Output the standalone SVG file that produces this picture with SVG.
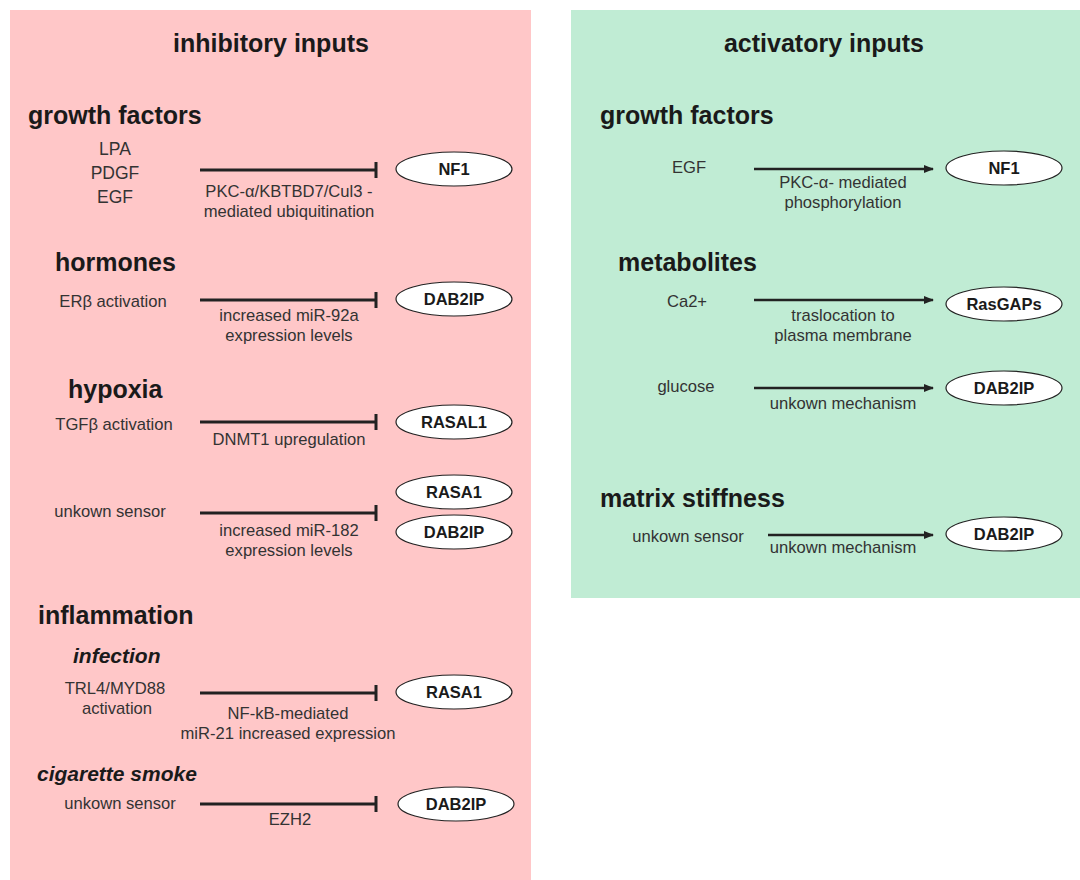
<svg xmlns="http://www.w3.org/2000/svg" width="1080" height="880" viewBox="0 0 1080 880">
<style>
text{font-family:"Liberation Sans",Arial,sans-serif;}
.title{font-size:25px;font-weight:bold;fill:#1a1a1a;text-anchor:middle;}
.head{font-size:25px;font-weight:bold;fill:#1a1a1a;}
.sub{font-size:21px;font-weight:bold;font-style:italic;fill:#1a1a1a;}
.in{font-size:17.5px;fill:#333;text-anchor:middle;}
.lab{font-size:16.6px;fill:#333;text-anchor:middle;}
.node ellipse{fill:#fff;stroke:#222;stroke-width:1.2;}
.node text{font-size:16.5px;font-weight:bold;fill:#1a1a1a;text-anchor:middle;}
.inh{stroke:#222;stroke-width:3;fill:none;}
.act{stroke:#222;stroke-width:2.5;fill:none;marker-end:url(#arr);}
</style>
<defs>
<marker id="arr" viewBox="0 0 10 10" refX="9" refY="5" markerWidth="4" markerHeight="4" orient="auto" markerUnits="strokeWidth">
<path d="M0,1 L10,5 L0,9 z" fill="#222"/>
</marker>
</defs>
<rect x="10" y="10" width="521" height="870" fill="#FFC7C8"/>
<rect x="571" y="10" width="509" height="588" fill="#C0ECD4"/>
<g id="labels">
<text class="title" x="271" y="52">inhibitory inputs</text>
<text class="title" x="824" y="52">activatory inputs</text>
<text class="head" x="28" y="124">growth factors</text>
<text class="head" x="55" y="271">hormones</text>
<text class="head" x="68" y="398">hypoxia</text>
<text class="head" x="38" y="624">inflammation</text>
<text class="sub" x="73" y="663">infection</text>
<text class="sub" x="37" y="781">cigarette smoke</text>
<text class="head" x="600" y="124">growth factors</text>
<text class="head" x="618" y="271">metabolites</text>
<text class="head" x="600" y="507">matrix stiffness</text>
<text class="in" x="115" y="155">LPA</text>
<text class="in" x="115" y="179">PDGF</text>
<text class="in" x="115" y="203">EGF</text>
<text class="lab" x="113" y="307">ERβ activation</text>
<text class="lab" x="114" y="430">TGFβ activation</text>
<text class="lab" x="110" y="517">unkown sensor</text>
<text class="lab" x="115" y="694">TRL4/MYD88</text>
<text class="lab" x="117" y="714">activation</text>
<text class="lab" x="120" y="809">unkown sensor</text>
<text class="lab" x="689" y="173">EGF</text>
<text class="lab" x="687" y="307">Ca2+</text>
<text class="lab" x="686" y="392">glucose</text>
<text class="lab" x="688" y="542">unkown sensor</text>
<text class="lab" x="289" y="197">PKC-α/KBTBD7/Cul3 -</text>
<text class="lab" x="289" y="217">mediated ubiquitination</text>
<text class="lab" x="289" y="321">increased miR-92a</text>
<text class="lab" x="289" y="341">expression levels</text>
<text class="lab" x="289" y="445">DNMT1 upregulation</text>
<text class="lab" x="289" y="536">increased miR-182</text>
<text class="lab" x="289" y="556">expression levels</text>
<text class="lab" x="288" y="719">NF-kB-mediated</text>
<text class="lab" x="288" y="739">miR-21 increased expression</text>
<text class="lab" x="290" y="825">EZH2</text>
<text class="lab" x="843" y="188">PKC-α- mediated</text>
<text class="lab" x="843" y="208">phosphorylation</text>
<text class="lab" x="843" y="321">traslocation to</text>
<text class="lab" x="843" y="341">plasma membrane</text>
<text class="lab" x="843" y="409">unkown mechanism</text>
<text class="lab" x="843" y="553">unkown mechanism</text>
</g>
<g id="connectors">
<path class="inh" d="M200,170 H376 M376,162 V178"/>
<path class="inh" d="M200,300 H376 M376,292 V308"/>
<path class="inh" d="M200,422 H376 M376,414 V430"/>
<path class="inh" d="M200,513 H376 M376,505 V521"/>
<path class="inh" d="M200,693 H376 M376,685 V701"/>
<path class="inh" d="M200,804 H376 M376,796 V812"/>
<path class="act" d="M754,169 H933"/>
<path class="act" d="M754,300 H933"/>
<path class="act" d="M754,388 H933"/>
<path class="act" d="M768,535 H933"/>
</g>
<g id="n-nf1-inh" class="node"><ellipse cx="454" cy="169" rx="58" ry="17"/><text x="454" y="175">NF1</text></g>
<g id="n-dab2ip-horm" class="node"><ellipse cx="454" cy="299" rx="58" ry="17"/><text x="454" y="305">DAB2IP</text></g>
<g id="n-rasal1" class="node"><ellipse cx="454" cy="422" rx="58" ry="17"/><text x="454" y="428">RASAL1</text></g>
<g id="n-rasa1-hyp" class="node"><ellipse cx="454" cy="492" rx="58" ry="17"/><text x="454" y="498">RASA1</text></g>
<g id="n-dab2ip-hyp" class="node"><ellipse cx="454" cy="532" rx="58" ry="17"/><text x="454" y="538">DAB2IP</text></g>
<g id="n-rasa1-inf" class="node"><ellipse cx="454" cy="692" rx="58" ry="17"/><text x="454" y="698">RASA1</text></g>
<g id="n-dab2ip-cig" class="node"><ellipse cx="456" cy="804" rx="58" ry="17"/><text x="456" y="810">DAB2IP</text></g>
<g id="n-nf1-act" class="node"><ellipse cx="1004" cy="168" rx="58" ry="17"/><text x="1004" y="174">NF1</text></g>
<g id="n-rasgaps" class="node"><ellipse cx="1004" cy="304" rx="58" ry="17"/><text x="1004" y="310">RasGAPs</text></g>
<g id="n-dab2ip-glu" class="node"><ellipse cx="1004" cy="388" rx="58" ry="17"/><text x="1004" y="394">DAB2IP</text></g>
<g id="n-dab2ip-mat" class="node"><ellipse cx="1004" cy="534" rx="58" ry="17"/><text x="1004" y="540">DAB2IP</text></g>
</svg>
